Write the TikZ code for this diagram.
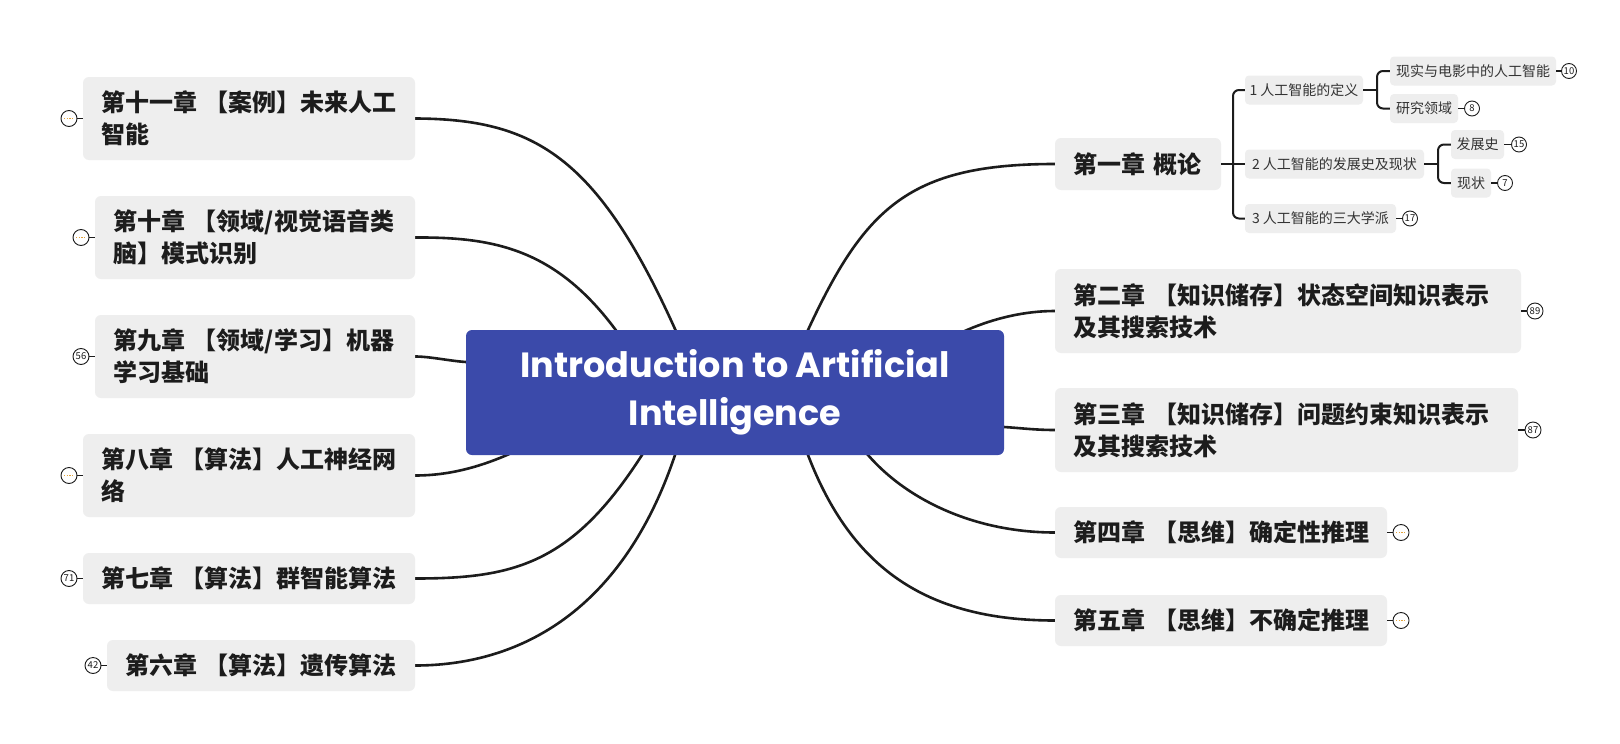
\documentclass[tikz,border=0pt]{standalone}
\usepackage{fontspec}
\newfontfamily\cjk{Noto Sans CJK SC}
\newfontfamily\titlefont{Poppins}
\usetikzlibrary{backgrounds}
\definecolor{boxgray}{HTML}{EEEEEE}
\definecolor{ctrblue}{HTML}{3B4AAA}
\definecolor{txtdark}{HTML}{1C1C1C}
\definecolor{subtxt}{HTML}{333333}
\definecolor{dotorange}{HTML}{E3A33B}
\begin{document}
\begin{tikzpicture}[x=1pt,y=-1pt,
 chap/.style={fill=boxgray, rounded corners=6pt, font=\cjk\bfseries\fontsize{24}{32}\selectfont, text=txtdark, align=left, inner xsep=18pt, inner ysep=0pt, text width=#1pt-36pt},
 subnode/.style={fill=boxgray, rounded corners=4pt, font=\cjk\fontsize{14}{17}\selectfont, text=subtxt, inner sep=0pt, minimum height=29pt},
 cnt/.style={circle, draw=txtdark, line width=0.9pt, fill=white, inner sep=0pt, font=\cjk\fontsize{9.5}{10}\selectfont, text=txtdark},
 bigcnt/.style={cnt, minimum size=16pt},
 smallcnt/.style={cnt, minimum size=15pt},
 fold/.style={bigcnt, path picture={\draw[dotorange, line width=0.7pt, dash pattern=on 1.3pt off 1.3pt] ([xshift=-5pt]path picture bounding box.center) -- ([xshift=5pt]path picture bounding box.center);}},
 conn/.style={draw=txtdark, line width=2.6pt},
 spine/.style={draw=txtdark, line width=2pt, rounded corners=6pt},
 tick/.style={draw=txtdark, line width=1.6pt}
]
\path[use as bounding box] (0,0) rectangle (1620,744);

% central node
\node[fill=ctrblue, rounded corners=6pt, minimum width=538pt, minimum height=125pt, inner sep=0pt, text=white, align=center, font=\titlefont\bfseries\fontsize{35}{48}\selectfont] (ctr) at (735,392.5) {Introduction to Artificial\\Intelligence};

% left chapters
\node[chap=332, minimum height=83pt] (L1) at (249,118.5) {第十一章 【案例】未来人工\\智能};
\node[chap=320, minimum height=83pt] (L2) at (255,237.5) {第十章 【领域/视觉语音类\\脑】模式识别};
\node[chap=320, minimum height=83pt] (L3) at (255,356.5) {第九章 【领域/学习】机器\\学习基础};
\node[chap=332, minimum height=83pt] (L4) at (249,475.5) {第八章 【算法】人工神经网\\络};
\node[chap=332, minimum height=51pt] (L5) at (249,578.5) {第七章 【算法】群智能算法};
\node[chap=308, minimum height=51pt] (L6) at (261,665.5) {第六章 【算法】遗传算法};

% right chapters
\node[chap=166, minimum height=52pt] (R1) at (1138,164) {第一章 概论};
\node[chap=466, minimum height=84pt] (R2) at (1288,311) {第二章 【知识储存】状态空间知识表示\\及其搜索技术};
\node[chap=463, minimum height=84pt] (R3) at (1286.5,430) {第三章 【知识储存】问题约束知识表示\\及其搜索技术};
\node[chap=332, minimum height=51pt] (R4) at (1221,532.5) {第四章 【思维】确定性推理};
\node[chap=332, minimum height=51pt] (R5) at (1221,620.5) {第五章 【思维】不确定推理};

% sub topics of chapter 1
\node[subnode, minimum width=118pt] (s1) at (1304,90) {1 人工智能的定义};
\node[subnode, minimum width=166pt] (s11) at (1473,71) {现实与电影中的人工智能};
\node[subnode, minimum width=68pt] (s12) at (1424,108.5) {研究领域};
\node[subnode, minimum width=179pt] (s2) at (1334.5,164) {2 人工智能的发展史及现状};
\node[subnode, minimum width=53pt] (s21) at (1477.5,144.5) {发展史};
\node[subnode, minimum width=40pt] (s22) at (1471,183) {现状};
\node[subnode, minimum width=151pt] (s3) at (1320.5,218.5) {3 人工智能的三大学派};

% count badges of sub topics
\node[smallcnt] (n11) at (1569,71) {10};
\node[smallcnt] (n12) at (1472,108.5) {8};
\node[smallcnt] (n21) at (1519,144.5) {15};
\node[smallcnt] (n22) at (1505,183) {7};
\node[smallcnt] (n3) at (1410,218.5) {17};
\draw[tick] (s11.east) -- (n11.west);
\draw[tick] (s12.east) -- (n12.west);
\draw[tick] (s21.east) -- (n21.west);
\draw[tick] (s22.east) -- (n22.west);
\draw[tick] (s3.east) -- (n3.west);

% chapter badges
\node[fold] (fL1) at (69,118.5) {};
\node[fold] (fL2) at (81,237.5) {};
\node[bigcnt] (fL3) at (81,356.5) {56};
\node[fold] (fL4) at (69,475.5) {};
\node[bigcnt] (fL5) at (69,578.5) {71};
\node[bigcnt] (fL6) at (93,665.5) {42};
\node[bigcnt] (fR2) at (1535,311) {89};
\node[bigcnt] (fR3) at (1533,430) {87};
\node[fold] (fR4) at (1401,532.5) {};
\node[fold] (fR5) at (1401,620.5) {};
\draw[tick] (fL1.east) -- (L1.west);
\draw[tick] (fL2.east) -- (L2.west);
\draw[tick] (fL3.east) -- (L3.west);
\draw[tick] (fL4.east) -- (L4.west);
\draw[tick] (fL5.east) -- (L5.west);
\draw[tick] (fL6.east) -- (L6.west);
\draw[tick] (R2.east) -- (fR2.west);
\draw[tick] (R3.east) -- (fR3.west);
\draw[tick] (R4.east) -- (fR4.west);
\draw[tick] (R5.east) -- (fR5.west);

% spines
\coordinate (sp1) at (1233,164);
\coordinate (sp2) at (1377,90);
\coordinate (sp3) at (1438,164);
\draw[spine] (s1.west) -| (sp1) |- (s3.west);
\draw[spine] (R1.east) -- (s2.west);
\draw[spine] (s11.west) -| (sp2) |- (s12.west);
\draw[spine] (s1.east) -- (sp2);
\draw[spine] (s21.west) -| (sp3) |- (s22.west);
\draw[spine] (s2.east) -- (sp3);

% main curves (behind the central node)
\coordinate (oL1) at (680,340);
\coordinate (oL2) at (622,339);
\coordinate (oL3) at (480,364);
\coordinate (oL4) at (518,450);
\coordinate (oL5) at (648,445);
\coordinate (oL6) at (679,444);
\coordinate (oR1) at (803,341);
\coordinate (oR2) at (956,335);
\coordinate (oR3) at (990,426);
\coordinate (oR4) at (860,446);
\coordinate (oR5) at (804,444);
\begin{pgfonlayer}{background}
\fill[white] (0,0) rectangle (1620,744);
\draw[conn] (oL1) -- (675,329) .. controls (597,156) and (534,119) .. (L1.east);
\draw[conn] (oL2) -- (615,329) .. controls (555,249) and (494,237) .. (L2.east);
\draw[conn] (oL3) -- (466,362) .. controls (450,361) and (430,356.5) .. (L3.east);
\draw[conn] (oL4) -- (507,455) .. controls (479,467) and (449,475.5) .. (L4.east);
\draw[conn] (oL5) -- (642,455) .. controls (572,564) and (514,578.5) .. (L5.east);
\draw[conn] (oL6) -- (675,455) .. controls (620.6,616.5) and (514,665.5) .. (L6.east);
\draw[conn] (oR1) -- (808,330) .. controls (865,207) and (910,164) .. (R1.west);
\draw[conn] (oR2) -- (967,330) .. controls (995,318) and (1025,311) .. (R2.west);
\draw[conn] (oR3) -- (1004,427) .. controls (1020,428) and (1035,430) .. (R3.west);
\draw[conn] (oR4) -- (868,455) .. controls (907,500) and (975,532.5) .. (R4.west);
\draw[conn] (oR5) -- (808,455) .. controls (851,567) and (925,620.5) .. (R5.west);
\end{pgfonlayer}
\end{tikzpicture}
\end{document}
